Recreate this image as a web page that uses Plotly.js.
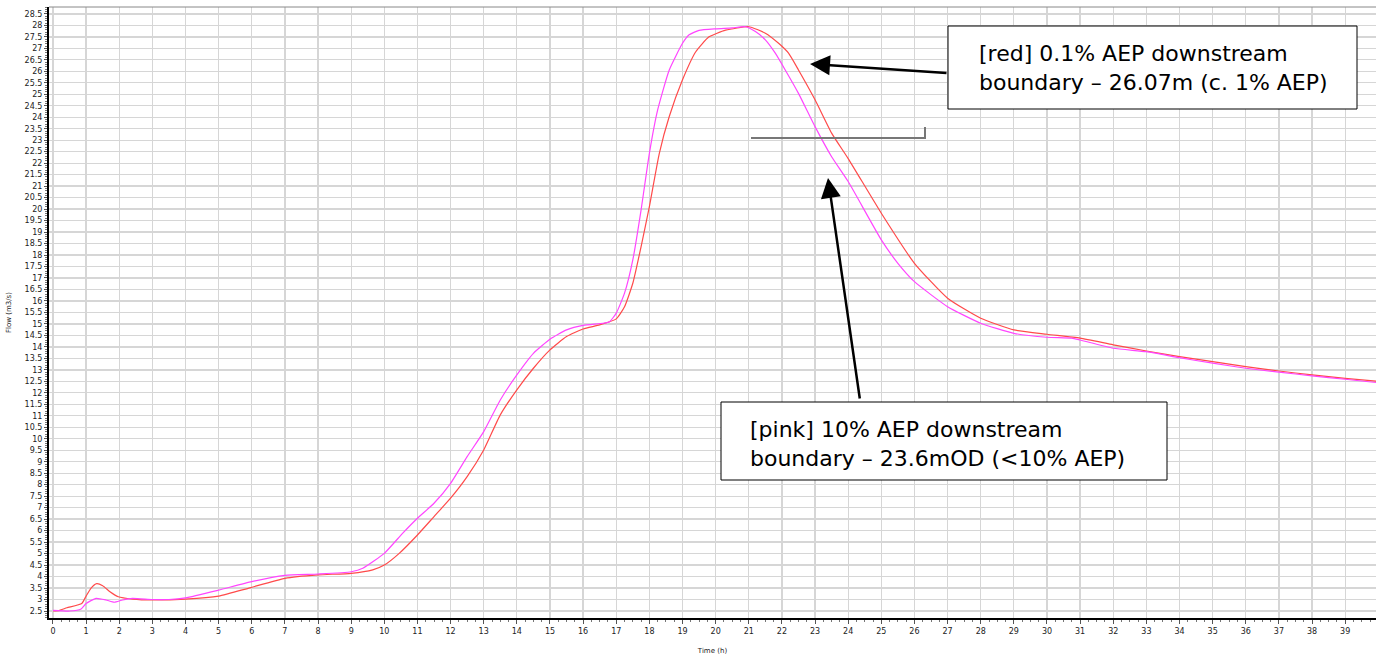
<!DOCTYPE html>
<html>
<head>
<meta charset="utf-8">
<script src="https://cdn.plot.ly/plotly-3.0.1.min.js"></script>
<style>html,body{margin:0;padding:0;background:#fff;}#chart{width:1376px;height:657px;}</style>
</head>
<body>
<div id="chart"></div>
<script>
// Pink series: 10% AEP downstream boundary
const pinkTime = [0, 0.5, 0.85, 1.0, 1.3, 1.6, 1.85, 2.1, 2.4, 3, 3.5, 4, 5, 6, 7, 8, 9, 9.35, 10, 10.55, 11, 11.5, 12, 12.5, 13, 13.5, 14, 14.5, 15, 15.5, 16, 16.6, 16.8, 17, 17.25, 17.5, 17.75, 18, 18.25, 18.6, 19, 19.2, 19.5, 20, 20.5, 20.9, 21.2, 21.5, 21.8, 22.1, 22.5, 23, 23.5, 24, 25, 25.5, 26, 27, 28, 29, 30, 30.75, 31, 32, 33, 34, 35, 36, 37, 38, 39, 40];
const pinkFlow = [2.53, 2.5, 2.59, 2.83, 3.05, 2.98, 2.88, 2.98, 3.05, 3.0, 3.0, 3.07, 3.41, 3.78, 4.05, 4.11, 4.21, 4.36, 5.01, 5.88, 6.54, 7.19, 8.06, 9.22, 10.31, 11.69, 12.78, 13.72, 14.33, 14.74, 14.94, 15.03, 15.1, 15.47, 16.34, 17.79, 19.97, 22.43, 24.32, 26.06, 27.22, 27.59, 27.78, 27.85, 27.89, 27.94, 27.73, 27.37, 26.79, 26.06, 25.04, 23.59, 22.28, 21.2, 18.66, 17.64, 16.84, 15.75, 15.03, 14.59, 14.42, 14.38, 14.3, 13.94, 13.79, 13.53, 13.29, 13.07, 12.9, 12.74, 12.59, 12.44];

// Red series: 0.1% AEP downstream boundary
const redTime = [0, 0.2, 0.42, 0.87, 1.0, 1.15, 1.32, 1.5, 1.72, 1.97, 2.4, 3, 4, 5, 5.94, 7, 8, 9, 9.65, 10, 10.45, 11, 11.5, 12, 12.5, 13, 13.5, 14, 14.5, 15, 15.5, 16, 16.5, 17, 17.25, 17.5, 17.75, 18, 18.3, 18.6, 19, 19.4, 19.8, 20.3, 21, 21.5, 21.9, 22.2, 22.5, 23, 23.5, 24, 25, 26, 27, 28, 29, 30, 31, 32, 33, 34, 35, 36, 37, 38, 39, 40];
const redFlow = [2.5, 2.53, 2.64, 2.83, 3.15, 3.5, 3.69, 3.6, 3.34, 3.12, 3.02, 2.98, 3.02, 3.15, 3.51, 3.92, 4.07, 4.14, 4.29, 4.5, 5.01, 5.81, 6.61, 7.41, 8.35, 9.51, 11.04, 12.13, 13.07, 13.87, 14.45, 14.78, 14.96, 15.22, 15.75, 16.77, 18.37, 20.11, 22.43, 24.03, 25.63, 26.85, 27.5, 27.79, 27.94, 27.66, 27.22, 26.79, 26.06, 24.76, 23.31, 22.2, 19.82, 17.64, 16.12, 15.25, 14.74, 14.55, 14.38, 14.09, 13.82, 13.58, 13.36, 13.14, 12.95, 12.78, 12.63, 12.5];

const xTitle = "Time (h)";
const yTitle = "Flow (m3/s)";
const redNote = "[red] 0.1% AEP downstream<br>boundary – 26.07m (c. 1% AEP)";
const pinkNote = "[pink] 10% AEP downstream<br>boundary – 23.6mOD (&lt;10% AEP)";

// pixel -> paper helpers (plot area: x 49..1376, y 7..618)
const L = 49, T = 7, W = 1327, H = 611;
const px = v => (v - L) / W;
const py = v => (T + H - v) / H;

const traces = [
  {x: redTime, y: redFlow, type: 'scatter', mode: 'lines', name: 'red',
   line: {color: '#ff4a4a', width: 1.2, shape: 'spline', smoothing: 0.5}},
  {x: pinkTime, y: pinkFlow, type: 'scatter', mode: 'lines', name: 'pink',
   line: {color: '#ff45ff', width: 1.2, shape: 'spline', smoothing: 0.5}}
];

const tickFont = {family: 'DejaVu Sans, Verdana, sans-serif', size: 8, color: '#222'};
const noteFont = {family: 'DejaVu Sans, Verdana, sans-serif', size: 22, color: '#000'};

const layout = {
  width: 1376, height: 657,
  margin: {l: L, r: 0, t: T, b: 657 - T - H},
  paper_bgcolor: '#fff', plot_bgcolor: '#fff',
  showlegend: false,
  xaxis: {
    range: [-0.12, 39.93], dtick: 1, tick0: 0,
    showgrid: true, gridcolor: '#d6d6d6', gridwidth: 1.3,
    zeroline: false, showline: true, linecolor: '#000', linewidth: 2,
    ticks: 'outside', ticklen: 4, tickcolor: '#555', tickwidth: 1,
    minor: {dtick: 0.25, ticks: 'outside', ticklen: 2, tickcolor: '#777', showgrid: false},
    tickfont: tickFont,
    title: {text: xTitle, font: {family: 'DejaVu Sans, Verdana, sans-serif', size: 7, color: '#222'}, standoff: 14}
  },
  yaxis: {
    range: [2.195, 28.8], dtick: 0.5, tick0: 0,
    showgrid: true, gridcolor: '#d6d6d6', gridwidth: 1.3,
    zeroline: false, showline: true, linecolor: '#000', linewidth: 2,
    ticks: 'outside', ticklen: 3, tickcolor: '#555', tickwidth: 1,
    minor: {dtick: 0.1, ticks: 'outside', ticklen: 2, tickcolor: '#777', showgrid: false},
    tickfont: tickFont,
    title: {text: yTitle, font: {family: 'DejaVu Sans, Verdana, sans-serif', size: 7, color: '#222'}, standoff: 12}
  },
  shapes: [
    {type: 'line', xref: 'paper', yref: 'paper', x0: 0, x1: 1, y0: 1, y1: 1, line: {color: '#888', width: 1}},
    {type: 'rect', xref: 'paper', yref: 'paper', x0: px(948), x1: px(1357), y0: py(26), y1: py(109),
     line: {color: '#000', width: 1}, fillcolor: '#fff', layer: 'above'},
    {type: 'rect', xref: 'paper', yref: 'paper', x0: px(721), x1: px(1167), y0: py(402), y1: py(480),
     line: {color: '#000', width: 1}, fillcolor: '#fff', layer: 'above'},
    {type: 'path', xref: 'paper', yref: 'paper',
     path: `M ${px(751)} ${py(138)} L ${px(925)} ${py(138)} L ${px(925)} ${py(127)}`,
     line: {color: '#777', width: 2}, layer: 'above'}
  ],
  annotations: [
    {xref: 'paper', yref: 'paper', x: px(977), y: py(68), xanchor: 'left', yanchor: 'middle',
     text: redNote, showarrow: false, align: 'left', font: noteFont},
    {xref: 'paper', yref: 'paper', x: px(748), y: py(444), xanchor: 'left', yanchor: 'middle',
     text: pinkNote, showarrow: false, align: 'left', font: noteFont},
    {xref: 'paper', yref: 'paper', x: px(810), y: py(64), text: '', showarrow: true,
     axref: 'pixel', ayref: 'pixel', ax: 138, ay: 9, arrowhead: 2, arrowsize: 1.6, arrowwidth: 2.5, arrowcolor: '#000', standoff: 0},
    {xref: 'paper', yref: 'paper', x: px(828), y: py(178), text: '', showarrow: true,
     axref: 'pixel', ayref: 'pixel', ax: 32, ay: 222, arrowhead: 2, arrowsize: 1.6, arrowwidth: 2.5, arrowcolor: '#000', standoff: 0}
  ]
};

Plotly.newPlot('chart', traces, layout, {displayModeBar: false, staticPlot: true});
</script>
</body>
</html>
